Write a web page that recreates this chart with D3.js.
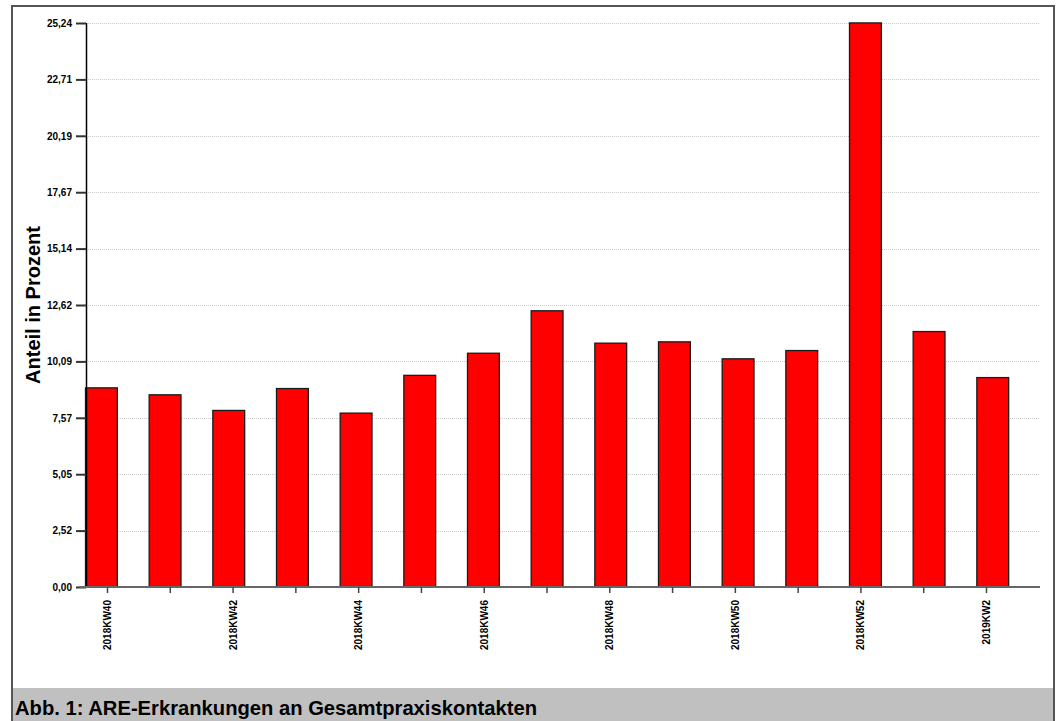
<!DOCTYPE html>
<html lang="de">
<head>
<meta charset="UTF-8">
<title>ARE-Erkrankungen an Gesamtpraxiskontakten</title>
<script src="https://cdn.jsdelivr.net/npm/d3@7"></script>
<style>
    html, body { margin: 0; padding: 0; background: #fff; }
    svg { display: block; }
    text { font-family: "Liberation Sans", Arial, sans-serif; font-weight: bold; fill: #000; }
    .grid line { stroke: #c8c8c8; stroke-width: 1; stroke-dasharray: 1, 1; }
</style>
</head>
<body>
<script>
    // Kalenderwochen
    const weeks = ["2018KW40", "2018KW41", "2018KW42", "2018KW43", "2018KW44", "2018KW45",
        "2018KW46", "2018KW47", "2018KW48", "2018KW49", "2018KW50", "2018KW51",
        "2018KW52", "2019KW1", "2019KW2"];
    // Anteil in Prozent
    const values = [8.91, 8.60, 7.90, 8.88, 7.78, 9.47, 10.46, 12.36, 10.91, 10.97,
        10.21, 10.58, 25.24, 11.43, 9.37];
    // nur jede zweite Woche beschriftet
    const xTickLabels = ["2018KW40", "2018KW42", "2018KW44", "2018KW46", "2018KW48",
        "2018KW50", "2018KW52", "2019KW2"];
    const yTicks = [0, 2.5236, 5.0472, 7.5708, 10.0944, 12.618, 15.1416, 17.6652, 20.1888, 22.7124, 25.236];
    const yTickLabels = ["0,00", "2,52", "5,05", "7,57", "10,09", "12,62", "15,14", "17,67", "20,19", "22,71", "25,24"];

    const width = 1059;
    const height = 721;
    const plot = {left: 86, right: 1040, top: 23, bottom: 587};

    const svg = d3.select("body").append("svg")
        .attr("width", width)
        .attr("height", height);

    // Rahmen
    svg.append("rect")
        .attr("x", 12).attr("y", 6)
        .attr("width", 1042).attr("height", 720)
        .attr("fill", "#fff")
        .attr("stroke", "#555")
        .attr("stroke-width", 2);

    // Bildunterschrift
    svg.append("rect")
        .attr("x", 13).attr("y", 688)
        .attr("width", 1040).attr("height", 40)
        .attr("fill", "#c0c0c0");
    svg.append("text")
        .attr("x", 15).attr("y", 715)
        .style("font-size", "20.2px")
        .text("Abb. 1: ARE-Erkrankungen an Gesamtpraxiskontakten");

    const x = d3.scaleBand()
        .domain(weeks)
        .range([plot.left - 1, plot.right])
        .paddingInner(0);

    // Ticks laufen etwas anders als die Balken
    const xt = d3.scalePoint()
        .domain(weeks)
        .range([plot.left + 21, plot.right - 54]);

    const y = d3.scaleLinear()
        .domain([0, yTicks[yTicks.length - 1]])
        .range([plot.bottom, plot.top]);

    const chart = svg.append("g");

    // Gitterlinien
    chart.append("g").attr("class", "grid")
        .selectAll("line")
        .data(yTicks)
        .enter()
        .append("line")
        .attr("x1", plot.left).attr("x2", plot.right)
        .attr("y1", d => Math.round(y(d)) + 0.5)
        .attr("y2", d => Math.round(y(d)) + 0.5);

    // Balken
    chart.append("g")
        .selectAll("rect")
        .data(values)
        .enter()
        .append("rect")
        .attr("x", (d, i) => x(weeks[i]) + 0.5)
        .attr("y", d => y(d))
        .attr("width", x.bandwidth() / 2)
        .attr("height", d => plot.bottom - y(d))
        .attr("fill", "#ff0000")
        .attr("stroke", "#1a1a1a")
        .attr("stroke-width", 1.3);

    // y-Achse
    const yAxis = d3.axisLeft(y)
        .tickValues(yTicks)
        .tickFormat((d, i) => yTickLabels[i])
        .tickSize(10)
        .tickPadding(4);
    const gy = chart.append("g")
        .attr("transform", `translate(${plot.left},0)`)
        .call(yAxis);
    gy.select(".domain").attr("stroke", "#000").attr("stroke-width", 1.5)
        .attr("d", `M0.5,${plot.top}V${plot.bottom}`);
    gy.selectAll(".tick line").attr("stroke", "#333").attr("stroke-width", 2);
    gy.selectAll(".tick text").style("font-size", "10px")
        .style("font-family", "'Liberation Sans', Arial, sans-serif").style("font-weight", "bold");

    // x-Achse
    const xAxis = d3.axisBottom(xt)
        .tickFormat(d => xTickLabels.includes(d) ? d : "")
        .tickSize(6)
        .tickPadding(0);
    const gx = chart.append("g")
        .attr("transform", `translate(0,${plot.bottom})`)
        .call(xAxis);
    gx.select(".domain").attr("stroke", "#666").attr("stroke-width", 2)
        .attr("d", `M${plot.left - 7},0H${plot.right}`);
    gx.selectAll(".tick line").attr("stroke", "#444").attr("stroke-width", 1.5);
    gx.selectAll(".tick text")
        .attr("transform", "rotate(-90)")
        .attr("x", -13)
        .attr("y", 0)
        .attr("dy", "0.35em")
        .attr("text-anchor", "end")
        .style("font-size", "10px")
        .style("font-family", "'Liberation Sans', Arial, sans-serif").style("font-weight", "bold");

    // Achsentitel
    svg.append("text")
        .attr("transform", `translate(40,${(plot.top + plot.bottom) / 2}) rotate(-90)`)
        .attr("text-anchor", "middle")
        .style("font-size", "20px")
        .text("Anteil in Prozent");
</script>
</body>
</html>
